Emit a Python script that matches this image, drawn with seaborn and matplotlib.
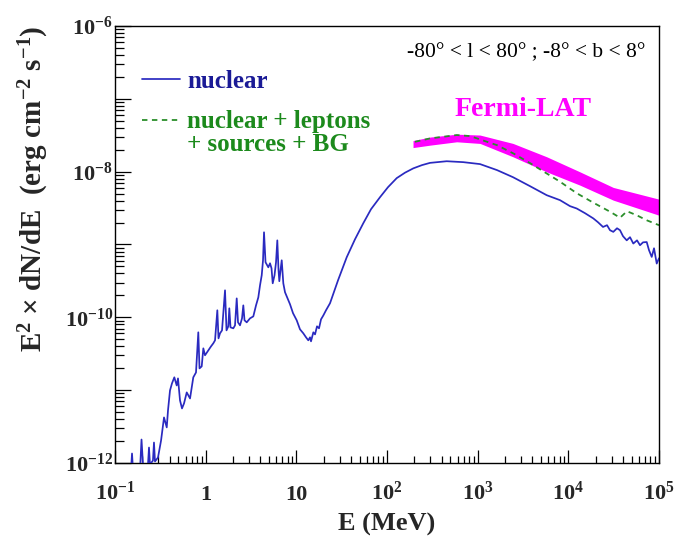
import matplotlib
matplotlib.use("Agg")
import matplotlib.pyplot as plt
import seaborn as sns
from matplotlib.ticker import FixedLocator, FixedFormatter, LogLocator, NullFormatter
from matplotlib.lines import Line2D

# ---------------- data ----------------
energy_nuclear = [
    0.129, 0.139, 0.150, 0.154, 0.158, 0.189, 0.196, 0.204, 0.231, 0.237,
    0.243, 0.262, 0.269, 0.276, 0.298, 0.322, 0.347, 0.372, 0.384, 0.404,
    0.425, 0.451, 0.479, 0.495, 0.521, 0.548, 0.577, 0.618, 0.672, 0.730,
    0.782, 0.829, 0.855, 0.904, 0.942, 0.983, 1.069, 1.145, 1.214, 1.268,
    1.344, 1.385, 1.439, 1.514, 1.634, 1.697, 1.777, 1.822, 1.878, 2.017,
    2.106, 2.199, 2.273, 2.391, 2.516, 2.600, 2.681, 2.835, 3.083, 3.352,
    3.591, 3.807, 3.974, 4.150, 4.289, 4.399, 4.571, 4.906, 5.123, 5.321,
    5.487, 5.743, 5.967, 6.166, 6.358, 6.488, 6.688, 6.896, 7.181, 7.497,
    8.514, 9.188, 10.09, 10.97, 11.93, 12.79, 13.55, 14.15, 14.51, 15.39,
    16.07, 16.90, 17.78, 18.71, 19.83, 21.24, 23.51, 28.81, 35.93, 44.36,
    54.76, 66.59, 83.70, 102.5, 127.9, 157.9, 195.0, 243.2, 298.0, 455.3,
    694.0, 1061, 1634, 2452, 3776, 5771, 8091, 10430, 12360, 15260,
    18850, 21230, 24120, 26690, 28800, 31310, 34410, 37130, 40070, 44020,
    47860, 52040, 57190, 61700, 66580, 73140, 77560, 83070, 88060, 94320,
    100000,
]
flux_nuclear = [
    7.89e-13, 6.73e-13, 7.89e-13, 1.35e-12, 7.89e-13, 8.39e-13, 2.10e-12, 8.95e-13, 9.53e-13, 1.63e-12,
    9.53e-13, 1.08e-12, 1.91e-12, 1.05e-12, 1.19e-12, 2.04e-12, 4.22e-12, 3.08e-12, 5.27e-12, 9.91e-12,
    1.24e-11, 1.50e-11, 1.16e-11, 1.45e-11, 7.23e-12, 5.61e-12, 6.58e-12, 9.31e-12, 7.69e-12, 1.50e-11,
    1.75e-11, 6.22e-11, 1.99e-11, 2.12e-11, 3.75e-11, 3.01e-11, 3.52e-11, 3.99e-11, 4.40e-11, 4.83e-11,
    1.25e-10, 5.14e-11, 6.03e-11, 6.62e-11, 2.35e-10, 6.62e-11, 7.52e-11, 1.33e-10, 7.28e-11, 7.06e-11,
    7.76e-11, 1.82e-10, 8.53e-11, 7.76e-11, 9.68e-11, 1.46e-10, 9.10e-11, 8.53e-11, 9.68e-11, 1.03e-10,
    1.46e-10, 1.88e-10, 2.75e-10, 3.78e-10, 6.07e-10, 1.47e-9, 5.70e-10, 4.86e-10, 5.52e-10, 4.71e-10,
    2.93e-10, 3.78e-10, 5.70e-10, 1.14e-9, 4.43e-10, 3.13e-10, 4.43e-10, 6.07e-10, 2.93e-10, 2.21e-10,
    1.51e-10, 1.14e-10, 9.10e-11, 6.84e-11, 6.03e-11, 5.31e-11, 4.83e-11, 5.31e-11, 4.68e-11, 6.22e-11,
    5.83e-11, 7.52e-11, 7.06e-11, 9.38e-11, 1.06e-10, 1.25e-10, 1.56e-10, 3.22e-10, 6.68e-10, 1.18e-9,
    1.96e-9, 3.05e-9, 4.46e-9, 6.12e-9, 8.15e-9, 9.68e-9, 1.11e-8, 1.23e-8, 1.32e-8, 1.39e-8,
    1.35e-8, 1.27e-8, 1.05e-8, 8.39e-9, 6.32e-9, 4.75e-9, 4.06e-9, 3.36e-9, 3.12e-9, 2.69e-9,
    2.28e-9, 2.02e-9, 1.74e-9, 1.84e-9, 1.57e-9, 1.49e-9, 1.67e-9, 1.57e-9, 1.30e-9, 1.14e-9,
    1.26e-9, 1.03e-9, 1.14e-9, 9.77e-10, 1.07e-9, 1.08e-9, 8.34e-10, 6.75e-10, 8.87e-10, 5.47e-10,
    6.47e-10,
]

energy_total = [203.5, 298.0, 587.0, 822.8, 1061, 1634, 2471, 3776, 5771,
                8091, 12360, 18850, 28800, 37130, 44340, 56750, 73140, 100000]
flux_total = [2.57e-8, 2.86e-8, 3.18e-8, 3.08e-8, 2.77e-8, 2.31e-8, 1.78e-8, 1.31e-8, 9.44e-9,
              7.28e-9, 5.06e-9, 3.75e-9, 2.82e-9, 2.33e-9, 2.86e-9, 2.52e-9, 2.15e-9, 1.84e-9]

energy_fermi = [193.6, 298.0, 587.0, 1061, 2452, 5771, 13440, 31310, 100000]
flux_fermi_high = [2.67e-8, 2.98e-8, 3.27e-8, 3.18e-8, 2.44e-8, 1.60e-8, 9.93e-9, 6.07e-9, 4.19e-9]
flux_fermi_low = [2.14e-8, 2.31e-8, 2.57e-8, 2.44e-8, 1.60e-8, 9.93e-9, 6.52e-9, 4.06e-9, 2.52e-9]

x_tick_values = [1e-1, 1, 10, 1e2, 1e3, 1e4, 1e5]
x_tick_labels = [r"$10^{-1}$", "1", "10", r"$10^{2}$", r"$10^{3}$", r"$10^{4}$", r"$10^{5}$"]
y_tick_values = [1e-12, 1e-11, 1e-10, 1e-9, 1e-8, 1e-7, 1e-6]
y_tick_labels = [r"$10^{-12}$", "", r"$10^{-10}$", "", r"$10^{-8}$", "", r"$10^{-6}$"]

label_nuclear = "nuclear"
label_total = ["nuclear + leptons", "+ sources + BG"]
label_fermi = "Fermi-LAT"
region_text = "-80° < l < 80° ; -8° < b < 8°"

# ---------------- style ----------------
sns.set_style("ticks")
plt.rcParams["font.family"] = ["Liberation Serif", "DejaVu Serif"]
plt.rcParams["mathtext.fontset"] = "custom"
plt.rcParams["mathtext.rm"] = "Liberation Serif"
plt.rcParams["mathtext.it"] = "Liberation Serif:italic"
plt.rcParams["mathtext.bf"] = "Liberation Serif:bold"
plt.rcParams["mathtext.default"] = "bf"

blue = "#2a2ac0"
blue_text = "#1a1a96"
green = "#2b8f2b"
green_text = "#1c8a1c"
magenta = "#ff00ff"

fig = plt.figure(figsize=(6.83, 5.47), dpi=100)
ax = fig.add_axes([0.1684, 0.1536, 0.7965, 0.7989])
ax.set_xscale("log")
ax.set_yscale("log")
ax.set_xlim(1e-1, 1e5)
ax.set_ylim(1e-12, 1e-6)

ax.fill_between(energy_fermi, flux_fermi_low, flux_fermi_high, color=magenta, lw=0, zorder=1)
sns.lineplot(x=energy_total, y=flux_total, ax=ax, sort=False, estimator=None,
             color=green, lw=1.3, linestyle=(0, (3, 2.5)), zorder=2)
sns.lineplot(x=energy_nuclear, y=flux_nuclear, ax=ax, sort=False, estimator=None,
             color=blue, lw=1.25, zorder=3)

# ---------------- axes / ticks ----------------
for s in ax.spines.values():
    s.set_linewidth(1.0)
    s.set_color("black")

ax.xaxis.set_major_locator(FixedLocator(x_tick_values))
ax.xaxis.set_major_formatter(FixedFormatter(x_tick_labels))
ax.xaxis.set_minor_locator(LogLocator(base=10, subs=range(2, 10), numticks=20))
ax.xaxis.set_minor_formatter(NullFormatter())
ax.yaxis.set_major_locator(FixedLocator(y_tick_values))
ax.yaxis.set_major_formatter(FixedFormatter(y_tick_labels))
ax.yaxis.set_minor_locator(LogLocator(base=10, subs=range(2, 10), numticks=20))
ax.yaxis.set_minor_formatter(NullFormatter())

ax.tick_params(which="both", direction="in", top=False, right=False, color="black", width=0.9)
ax.tick_params(axis="x", which="major", length=9.1, pad=26.5, labelsize=16)
ax.tick_params(axis="x", which="minor", length=4.8)
ax.tick_params(axis="y", which="major", length=11.5, pad=1.5, labelsize=16)
ax.tick_params(axis="y", which="minor", length=6.3)
for t in ax.get_xticklabels():
    t.set_verticalalignment("baseline")
    t.set_fontweight("bold")
for t in ax.get_yticklabels():
    t.set_fontweight("bold")

ax.set_xlabel("E (MeV)", fontsize=19, fontweight="bold")
ax.xaxis.set_label_coords(0.5, -0.114)
ax.set_ylabel(r"E$^{2}$ × dN/dE  (erg cm$^{-2}$ s$^{-1}$)", fontsize=21,
              fontweight="bold", loc="top")
ax.yaxis.set_label_coords(-0.117, 1.0)

# ---------------- annotations ----------------
ax.text(0.7564, 0.929, region_text, transform=ax.transAxes, ha="center",
        va="baseline", fontsize=15.5, color="black")
ax.text(0.75, 0.794, label_fermi, transform=ax.transAxes, ha="center",
        va="baseline", fontsize=20, fontweight="bold", color=magenta)

leg_prop = dict(family="Liberation Serif", weight="bold", size=18)
leg1 = ax.legend([Line2D([], [], color=blue, lw=1.25)], [label_nuclear],
                 loc="center left", bbox_to_anchor=(0.0496, 0.874), frameon=False,
                 prop=leg_prop, handlelength=1.5, handletextpad=0.3,
                 borderpad=0, borderaxespad=0)
leg1.get_texts()[0].set_color(blue_text)
ax.add_artist(leg1)
leg2 = ax.legend([Line2D([], [], color=green, lw=1.3, linestyle=(0, (3, 2.5))),
                  Line2D([], [], color="none")], label_total,
                 loc="center left", bbox_to_anchor=(0.0496, 0.754), frameon=False,
                 prop=leg_prop, handlelength=1.5, handletextpad=0.3,
                 borderpad=0, borderaxespad=0, labelspacing=0.0)
for t in leg2.get_texts():
    t.set_color(green_text)

fig.savefig("out.png", dpi=100)
